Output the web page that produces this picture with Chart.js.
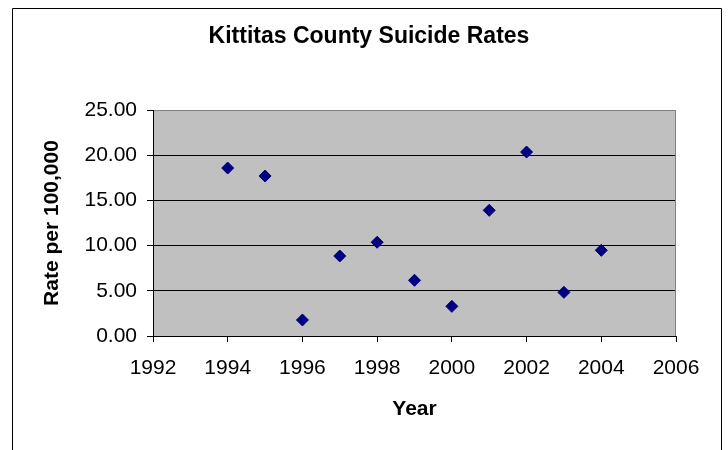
<!DOCTYPE html>
<html>
<head>
<meta charset="utf-8">
<title>Kittitas County Suicide Rates</title>
<script src="https://cdn.jsdelivr.net/npm/chart.js@4/dist/chart.umd.min.js"></script>
<style>
  html, body { margin: 0; padding: 0; background: #ffffff; }
  #wrap { width: 728px; height: 450px; position: relative; }
</style>
</head>
<body>
<div id="wrap"><canvas id="chart" width="728" height="450"></canvas></div>
<script>
// Annual suicide rate, Kittitas County
const chartTitle = 'Kittitas County Suicide Rates';
const xAxisTitle = 'Year';
const yAxisTitle = 'Rate per 100,000';
const years = [1994, 1995, 1996, 1997, 1998, 1999, 2000, 2001, 2002, 2003, 2004];
const rates = [18.58, 17.70, 1.77, 8.85, 10.37, 6.16, 3.28, 13.90, 20.35, 4.83, 9.48];
const yearTicks = [1992, 1994, 1996, 1998, 2000, 2002, 2004, 2006];
const rateTicks = [0, 5, 10, 15, 20, 25];

const FONT = '"Liberation Sans", Arial, sans-serif';

// White page, outer frame, grey plot background and chart title
const framePlugin = {
  id: 'frame',
  beforeDraw(chart) {
    const { ctx, chartArea: a } = chart;
    ctx.save();
    ctx.fillStyle = '#ffffff';
    ctx.fillRect(0, 0, chart.width, chart.height);
    ctx.strokeStyle = '#000000';
    ctx.lineWidth = 1;
    ctx.beginPath();
    ctx.moveTo(12.5, chart.height + 2);
    ctx.lineTo(12.5, 8.5);
    ctx.lineTo(721.5, 8.5);
    ctx.lineTo(721.5, chart.height + 2);
    ctx.stroke();
    ctx.fillStyle = '#c0c0c0';
    ctx.fillRect(a.left, a.top, a.right - a.left, a.bottom - a.top);
    ctx.fillStyle = '#000000';
    ctx.font = 'bold 23px ' + FONT;
    ctx.textAlign = 'center';
    ctx.textBaseline = 'middle';
    ctx.fillText(chartTitle, 369, 37);
    ctx.restore();
  },
  afterDraw(chart) {
    const { ctx, chartArea: a } = chart;
    ctx.save();
    ctx.strokeStyle = '#808080';
    ctx.lineWidth = 1;
    ctx.beginPath();
    ctx.moveTo(Math.round(a.right) - 0.5, a.top);
    ctx.lineTo(Math.round(a.right) - 0.5, a.bottom);
    ctx.stroke();
    ctx.restore();
  }
};

new Chart(document.getElementById('chart'), {
  type: 'scatter',
  data: {
    datasets: [{
      label: 'Rate per 100,000',
      data: years.map((y, i) => ({ x: y, y: rates[i] })),
      pointStyle: 'rectRot',
      pointRadius: 6,
      pointHoverRadius: 6,
      borderWidth: 1,
      backgroundColor: '#000080',
      borderColor: '#000080'
    }]
  },
  options: {
    responsive: false,
    animation: false,
    events: [],
    layout: { padding: { left: 13, right: 52, top: 110, bottom: 0 } },
    plugins: {
      legend: { display: false },
      tooltip: { enabled: false },
      title: { display: false }
    },
    scales: {
      x: {
        type: 'linear',
        min: yearTicks[0],
        max: yearTicks[yearTicks.length - 1],
        afterBuildTicks: (s) => { s.ticks = yearTicks.map(v => ({ value: v })); },
        afterFit: (s) => { s.height = 114; },
        grid: {
          drawOnChartArea: false,
          drawTicks: true,
          tickLength: 6,
          tickColor: '#000000'
        },
        border: { display: true, color: '#000000', width: 1 },
        ticks: {
          color: '#000000',
          padding: 14,
          maxRotation: 0,
          font: { family: FONT, size: 21 },
          callback: (v) => String(v)
        },
        title: {
          display: true,
          text: xAxisTitle,
          color: '#000000',
          font: { family: FONT, size: 21, weight: 'bold' },
          padding: { top: 0, bottom: 28 }
        }
      },
      y: {
        type: 'linear',
        min: rateTicks[0],
        max: rateTicks[rateTicks.length - 1],
        afterBuildTicks: (s) => { s.ticks = rateTicks.map(v => ({ value: v })); },
        afterFit: (s) => { s.width = 140; },
        grid: {
          color: (c) => (c.tick && c.tick.value === 25 ? '#808080' : '#000000'),
          lineWidth: 1,
          drawTicks: true,
          tickLength: 6,
          tickColor: '#000000'
        },
        border: { display: true, color: '#000000', width: 1 },
        ticks: {
          color: '#000000',
          padding: 10,
          font: { family: FONT, size: 21 },
          callback: (v) => Number(v).toFixed(2)
        },
        title: {
          display: true,
          text: yAxisTitle,
          color: '#000000',
          font: { family: FONT, size: 21, weight: 'bold' },
          padding: { top: 27, bottom: 0 }
        }
      }
    }
  },
  plugins: [framePlugin]
});
</script>
</body>
</html>
